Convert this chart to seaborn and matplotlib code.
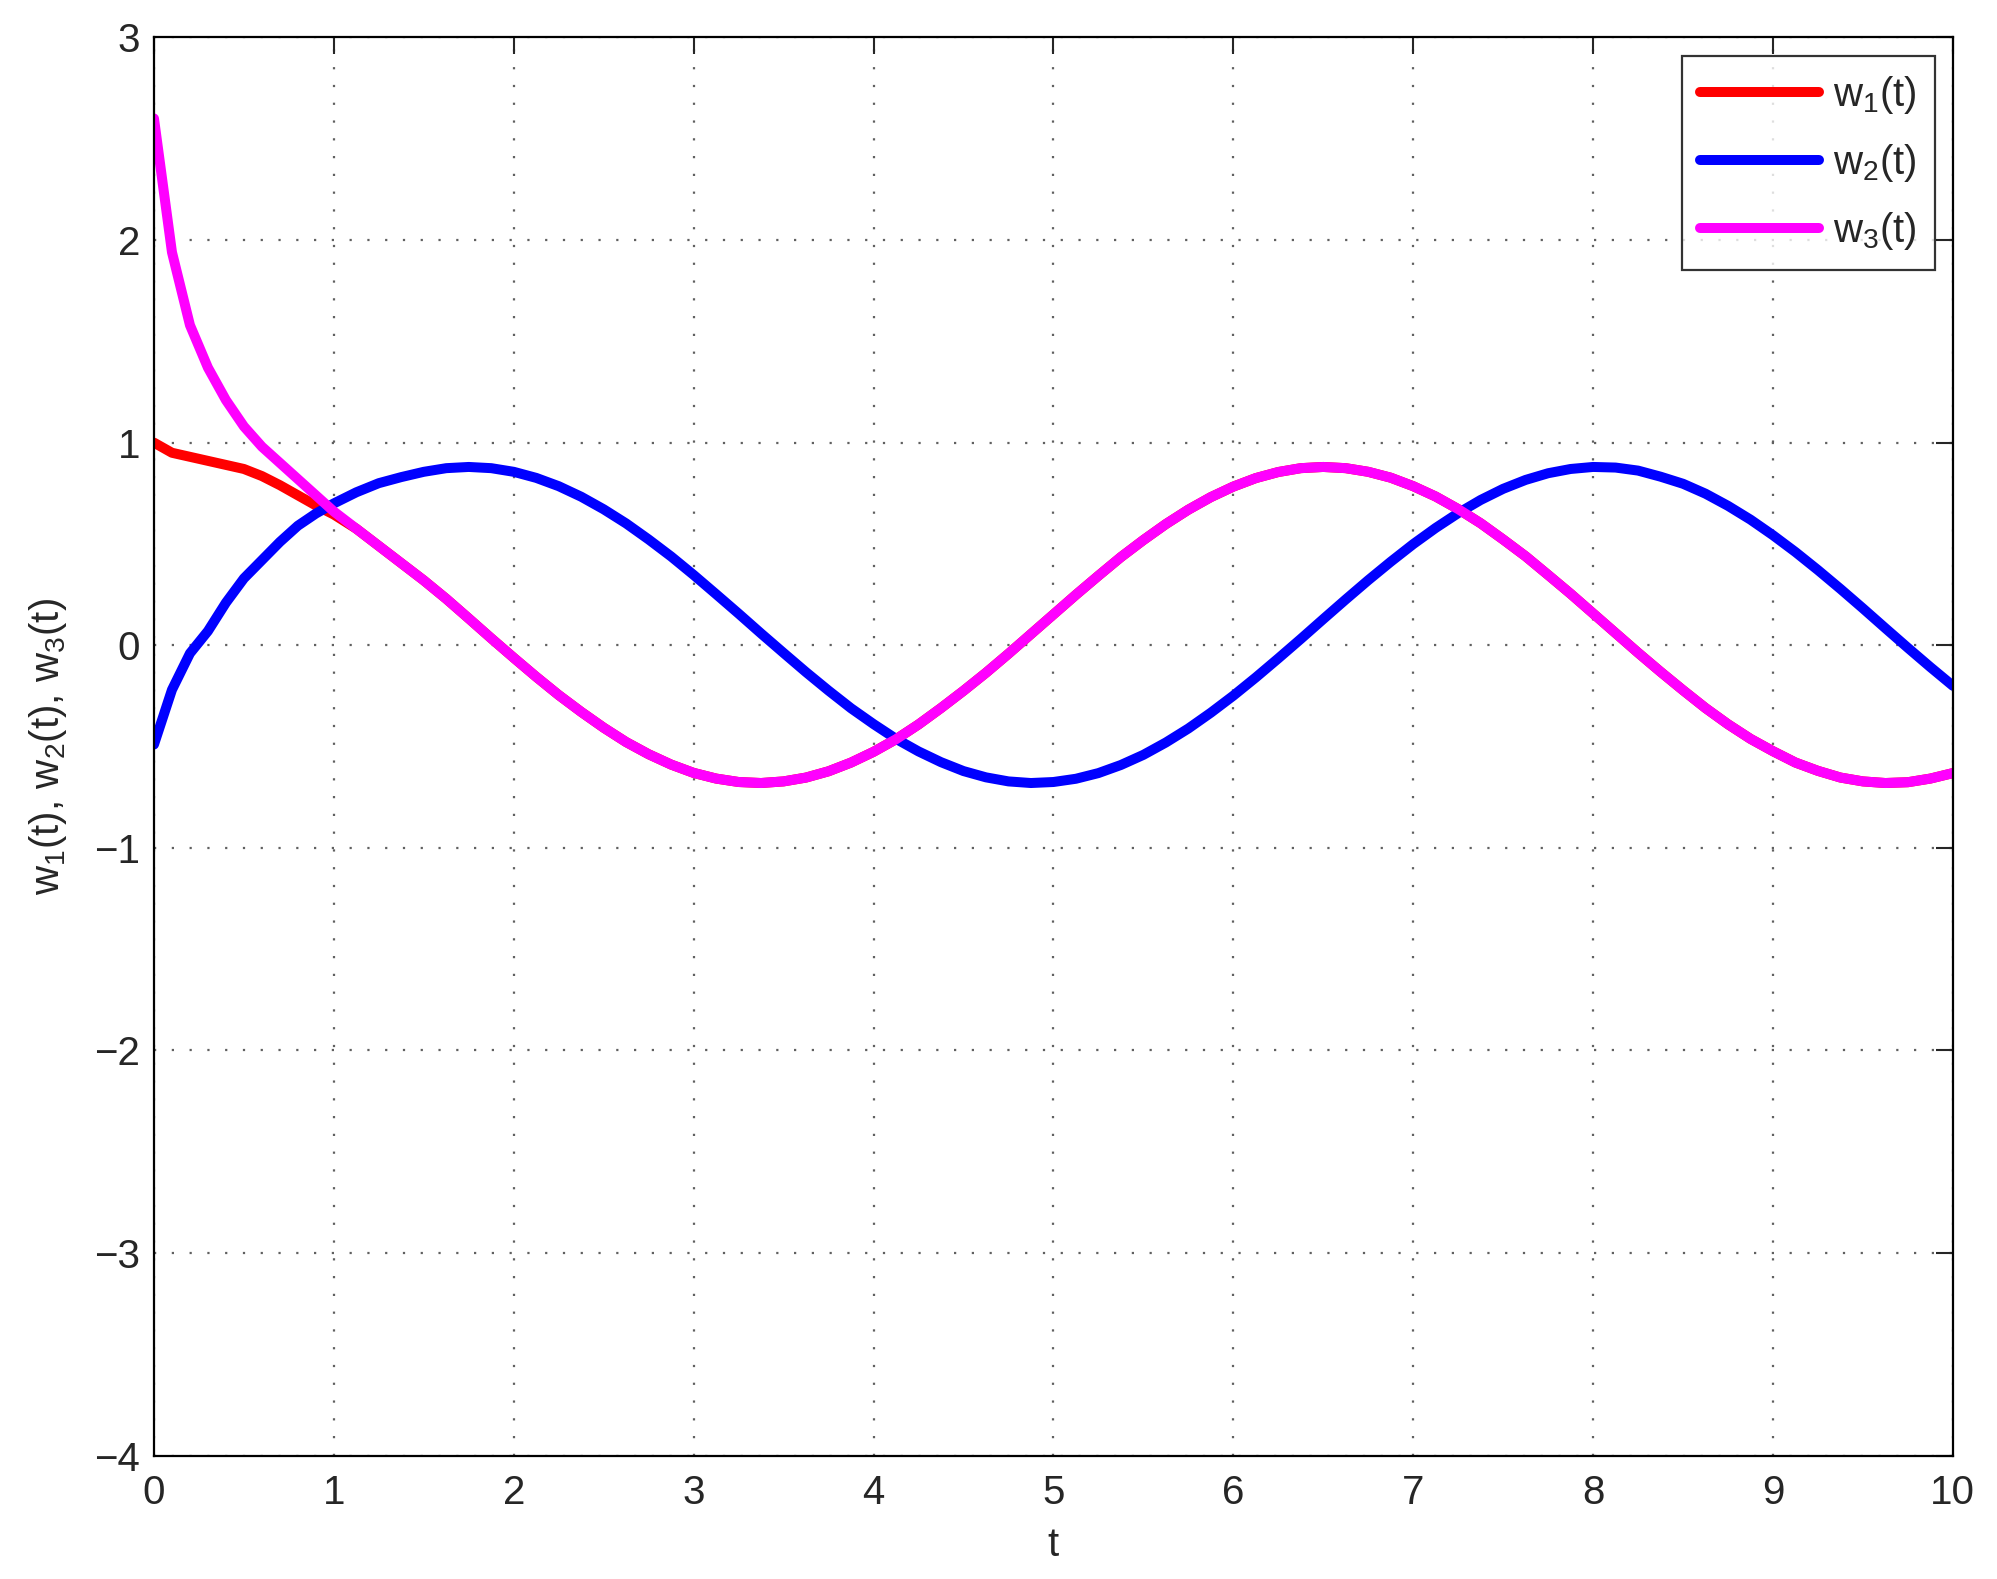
import numpy as np
import matplotlib
matplotlib.use("Agg")
import matplotlib.pyplot as plt
import pandas as pd
import seaborn as sns

# values
t = [0.0, 0.1, 0.2, 0.3, 0.4, 0.5, 0.6, 0.7, 0.8, 0.9, 1.0,
     1.125, 1.25, 1.375, 1.5, 1.625, 1.75, 1.875, 2.0,
     2.125, 2.25, 2.375, 2.5, 2.625, 2.75, 2.875, 3.0,
     3.125, 3.25, 3.375, 3.5, 3.625, 3.75, 3.875, 4.0,
     4.125, 4.25, 4.375, 4.5, 4.625, 4.75, 4.875, 5.0,
     5.125, 5.25, 5.375, 5.5, 5.625, 5.75, 5.875, 6.0,
     6.125, 6.25, 6.375, 6.5, 6.625, 6.75, 6.875, 7.0,
     7.125, 7.25, 7.375, 7.5, 7.625, 7.75, 7.875, 8.0,
     8.125, 8.25, 8.375, 8.5, 8.625, 8.75, 8.875, 9.0,
     9.125, 9.25, 9.375, 9.5, 9.625, 9.75, 9.875, 10.0]

w3 = [2.6, 1.94, 1.58, 1.37, 1.21, 1.08, 0.98, 0.90, 0.82, 0.74, 0.66,
      0.575, 0.49, 0.405, 0.32, 0.229, 0.132, 0.034, -0.062,
      -0.156, -0.246, -0.329, -0.407, -0.478, -0.538, -0.589, -0.630,
      -0.658, -0.675, -0.680, -0.672, -0.653, -0.622, -0.579, -0.526,
      -0.464, -0.391, -0.310, -0.225, -0.136, -0.042, 0.055, 0.152,
      0.249, 0.343, 0.435, 0.519, 0.598, 0.669, 0.731, 0.783,
      0.825, 0.855, 0.874, 0.880, 0.874, 0.856, 0.827, 0.785,
      0.734, 0.672, 0.602, 0.522, 0.439, 0.347, 0.254, 0.157,
      0.060, -0.037, -0.131, -0.222, -0.310, -0.390, -0.462, -0.523,
      -0.579, -0.620, -0.653, -0.672, -0.680, -0.676, -0.658, -0.631]

w1 = [1.0, 0.95, 0.93, 0.91, 0.89, 0.87, 0.835, 0.79, 0.74, 0.69, 0.645] + w3[11:]

w2 = [-0.49, -0.22, -0.04, 0.07, 0.21, 0.33, 0.42, 0.51, 0.59, 0.65, 0.70,
      0.755, 0.80, 0.83, 0.856, 0.874, 0.880, 0.874, 0.856,
      0.826, 0.785, 0.733, 0.671, 0.601, 0.522, 0.438, 0.347,
      0.252, 0.156, 0.058, -0.038, -0.133, -0.224, -0.311, -0.389,
      -0.462, -0.524, -0.577, -0.621, -0.652, -0.672, -0.680, -0.675,
      -0.659, -0.631, -0.591, -0.541, -0.480, -0.411, -0.333, -0.249,
      -0.159, -0.065, 0.031, 0.129, 0.226, 0.321, 0.412, 0.499,
      0.579, 0.652, 0.717, 0.772, 0.816, 0.849, 0.870, 0.880,
      0.877, 0.862, 0.832, 0.797, 0.748, 0.688, 0.620, 0.543,
      0.460, 0.371, 0.278, 0.182, 0.084, -0.013, -0.108, -0.200]

names = ['w1', 'w2', 'w3']
labels = [r'w$_\mathregular{1}$(t)', r'w$_\mathregular{2}$(t)', r'w$_\mathregular{3}$(t)']
colors = {'w1': '#ff0000', 'w2': '#0000ff', 'w3': '#ff00ff'}

df = pd.concat([
    pd.DataFrame({'t': t, 'w': w1, 'series': 'w1'}),
    pd.DataFrame({'t': t, 'w': w2, 'series': 'w2'}),
    pd.DataFrame({'t': t, 'w': w3, 'series': 'w3'}),
], ignore_index=True)

sns.set_style('white')
plt.rcParams['font.family'] = ['Liberation Sans', 'DejaVu Sans']
plt.rcParams['mathtext.fontset'] = 'custom'
plt.rcParams['mathtext.rm'] = 'Liberation Sans'
plt.rcParams['mathtext.it'] = 'Liberation Sans:italic'

fs = 29
fig = plt.figure(figsize=(19.97, 15.79), dpi=100)
ax = fig.add_axes([0.0771, 0.0781, 0.9008, 0.8982])

sns.lineplot(data=df, x='t', y='w', hue='series', hue_order=names,
             palette=colors, linewidth=7.2, ax=ax, sort=False)

ax.set_xlim(0, 10)
ax.set_ylim(-4, 3)
ax.set_xticks(range(0, 11))
ax.set_yticks(range(-4, 4))
ax.grid(True, linestyle=(0, (1, 7)), color='#606060', linewidth=1.6)
ax.tick_params(direction='in', length=12, width=1.5, labelsize=fs,
               top=True, right=True, pad=10)
ax.tick_params(axis='x', pad=13)
for s in ax.spines.values():
    s.set_visible(True)
    s.set_linewidth(1.6)
    s.set_color('black')

ax.set_xlabel('t', fontsize=fs, labelpad=10)
ax.set_ylabel(r'w$_\mathregular{1}$(t), w$_\mathregular{2}$(t), w$_\mathregular{3}$(t)',
              fontsize=fs, labelpad=18)

handles, _ = ax.get_legend_handles_labels()
leg = ax.legend(handles[:3], labels, loc='upper right', fontsize=fs,
                frameon=True, fancybox=False, edgecolor='black',
                handlelength=2.95, handletextpad=0.35, borderpad=0.45,
                labelspacing=0.65, borderaxespad=0.45)
leg.get_frame().set_linewidth(1.6)
for line in leg.get_lines():
    line.set_linewidth(7.2)

fig.savefig('out.png', dpi=100)
